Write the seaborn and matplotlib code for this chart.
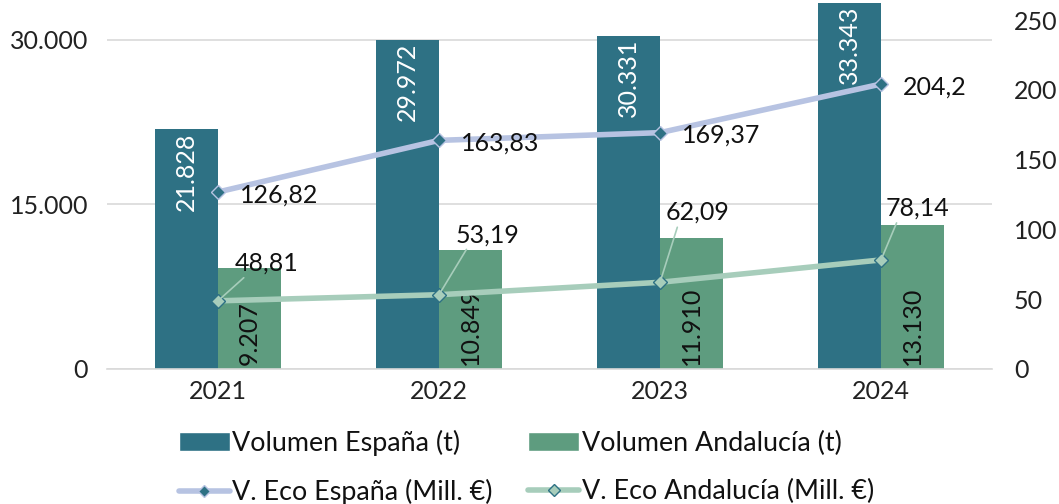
import matplotlib
matplotlib.use("Agg")
import matplotlib.pyplot as plt
import seaborn as sns
import pandas as pd
from matplotlib.lines import Line2D
from matplotlib.patches import Patch

years = ["2021", "2022", "2023", "2024"]
vol_espana = [21828, 29972, 30331, 33343]
vol_andalucia = [9207, 10849, 11910, 13130]
eco_espana = [126.82, 163.83, 169.37, 204.2]
eco_andalucia = [48.81, 53.19, 62.09, 78.14]
eco_espana_lbl = ["126,82", "163,83", "169,37", "204,2"]
eco_andalucia_lbl = ["48,81", "53,19", "62,09", "78,14"]
left_ticks = [0, 15000, 30000]
right_ticks = [0, 50, 100, 150, 200, 250]

C_ESP = "#2E7184"
C_AND = "#5E9C7F"
C_LESP = "#B7C3E2"
C_LAND = "#A7CDBB"
FONT = "Lato"

sns.set_theme(style="white")
plt.rcParams["font.family"] = [FONT, "DejaVu Sans"]
FS = 18

fig = plt.figure(figsize=(10.59, 5.04), dpi=100)
ax = fig.add_axes([0.1015, 0.268, 0.8348, 0.728])

df = pd.DataFrame({
    "year": years * 2,
    "value": vol_espana + vol_andalucia,
    "serie": ["Volumen España (t)"] * 4 + ["Volumen Andalucía (t)"] * 4,
})
sns.barplot(data=df, x="year", y="value", hue="serie", ax=ax,
            palette=[C_ESP, C_AND], width=0.57, saturation=1, legend=False,
            linewidth=0, edgecolor="none")

ax.set_ylim(0, 33450)
ax.set_xlim(-0.5, 3.5)
ax.set_yticks(left_ticks)
ax.set_yticklabels([f"{v:,}".replace(",", ".") for v in left_ticks], fontsize=FS, color="#222222")
ax.tick_params(axis="x", labelsize=FS, colors="#222222", length=0, pad=8)
ax.tick_params(axis="y", length=0, pad=14)
ax.set_xlabel("")
ax.set_ylabel("")
ax.grid(axis="y", color="#D9D9D9", linewidth=1.2)
ax.set_axisbelow(True)
for s in ["top", "right", "left"]:
    ax.spines[s].set_visible(False)
ax.spines["bottom"].set_color("#D9D9D9")
ax.spines["bottom"].set_linewidth(1.2)

# bar labels
cont_esp, cont_and = ax.containers[0], ax.containers[1]
for bar, v in zip(cont_esp, vol_espana):
    ax.annotate(f"{v:,}".replace(",", "."), xy=(bar.get_x() + bar.get_width() / 2, bar.get_height()),
                xytext=(0, -2), textcoords="offset points", rotation=90,
                ha="center", va="top", color="white", fontsize=FS)
for bar, v in zip(cont_and, vol_andalucia):
    ax.annotate(f"{v:,}".replace(",", "."), xy=(bar.get_x() + bar.get_width() / 2, 0),
                xytext=(0, 3), textcoords="offset points", rotation=90,
                ha="center", va="bottom", color="#111111", fontsize=FS)

ax2 = ax.twinx()
ax2.set_ylim(0, 263)
ax2.set_yticks(right_ticks)
ax2.set_yticklabels([str(v) for v in right_ticks], fontsize=FS, color="#222222")
ax2.tick_params(axis="y", length=0, pad=16)
for s in ax2.spines.values():
    s.set_visible(False)
ax2.grid(False)

xpos = list(range(len(years)))
sns.lineplot(x=xpos, y=eco_espana, ax=ax2, color=C_LESP, linewidth=4,
             marker="D", markersize=7, markerfacecolor=C_ESP, markeredgecolor=C_LESP,
             markeredgewidth=1, legend=False)
sns.lineplot(x=xpos, y=eco_andalucia, ax=ax2, color=C_LAND, linewidth=4,
             marker="D", markersize=7, markerfacecolor=C_LAND, markeredgecolor=C_ESP,
             markeredgewidth=1, legend=False)
ax2.set_xlim(-0.5, 3.5)

for x, v, t in zip(xpos, eco_espana, eco_espana_lbl):
    ax2.annotate(t, xy=(x, v), xytext=(16, -2), textcoords="offset points",
                 ha="left", va="center", fontsize=FS, color="#111111")

and_offsets = [(12, 19), (12, 35), (4, 42), (3, 29)]
for x, v, t, off in zip(xpos, eco_andalucia, eco_andalucia_lbl, and_offsets):
    ax2.annotate(t, xy=(x, v), xytext=off, textcoords="offset points",
                 ha="left", va="bottom", fontsize=FS, color="#111111",
                 arrowprops=dict(arrowstyle="-", color=C_LAND, lw=1.2,
                                 shrinkA=0, shrinkB=3, relpos=(0.2, 0)))

handles = [
    Patch(facecolor=C_ESP, label="Volumen España (t)"),
    Line2D([], [], color=C_LESP, lw=4, marker="D", markersize=6,
           markerfacecolor=C_ESP, markeredgecolor=C_LESP, label="V. Eco España (Mill. €)"),
    Patch(facecolor=C_AND, label="Volumen Andalucía (t)"),
    Line2D([], [], color=C_LAND, lw=4, marker="D", markersize=6,
           markerfacecolor=C_LAND, markeredgecolor=C_ESP, label="V. Eco Andalucía (Mill. €)"),
]
fig.legend(handles=handles, ncol=2, loc="lower center", bbox_to_anchor=(0.497, -0.05),
           frameon=False, fontsize=19.4, handlelength=1.9, handletextpad=0.1,
           columnspacing=1.3, labelspacing=0.85, labelcolor="#111111")

fig.savefig("out.png", dpi=100)
